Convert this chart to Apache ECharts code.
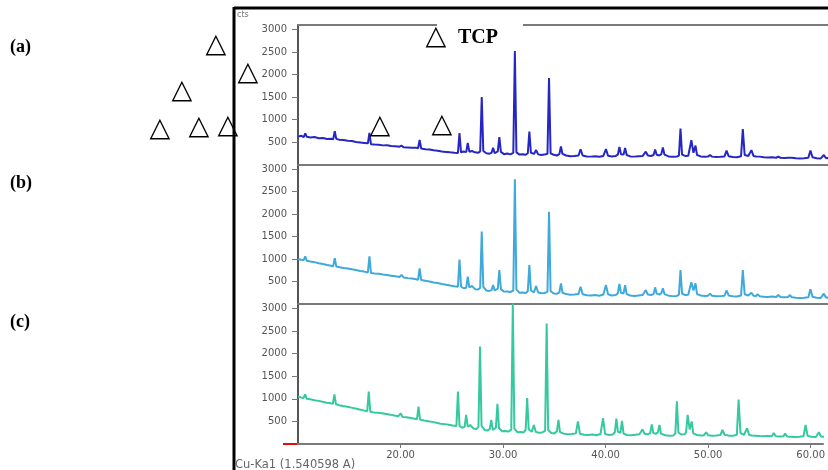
<!DOCTYPE html>
<html>
<head>
<meta charset="utf-8">
<script src="https://cdn.jsdelivr.net/npm/echarts@6/dist/echarts.min.js"></script>
<style>
  html, body { margin: 0; padding: 0; background: #fff; }
  #main { width: 828px; height: 470px; }
</style>
</head>
<body>
<div id="main"></div>
<script>
// 2theta positions shared by the three patterns
var twoTheta = [
  10.0, 10.3, 10.55, 10.7, 10.85, 11.2, 11.6, 12.0, 12.4, 12.8,
  13.2, 13.4, 13.55, 13.7, 14.0, 14.4, 14.8, 15.2, 15.6, 16.0,
  16.4, 16.75, 16.9, 17.05, 17.4, 17.8, 18.2, 18.6, 19.0, 19.4,
  19.8, 20.0, 20.2, 20.6, 21.0, 21.4, 21.6, 21.75, 21.9, 22.3,
  22.7, 23.1, 23.5, 23.9, 24.3, 24.7, 25.1, 25.45, 25.6, 25.75,
  26.0, 26.25, 26.4, 26.55, 26.8, 27.1, 27.4, 27.6, 27.75, 27.9,
  28.2, 28.5, 28.7, 28.85, 29.0, 29.3, 29.45, 29.6, 29.9, 30.2,
  30.5, 30.8, 30.95, 31.1, 31.4, 31.7, 32.0, 32.2, 32.35, 32.5,
  32.8, 33.0, 33.2, 33.5, 33.8, 34.1, 34.25, 34.4, 34.7, 35.0,
  35.25, 35.4, 35.55, 35.9, 36.3, 36.7, 37.1, 37.3, 37.5, 37.9,
  38.3, 38.7, 39.1, 39.5, 39.75, 39.95, 40.3, 40.7, 40.9, 41.05,
  41.2, 41.45, 41.6, 41.75, 42.1, 42.5, 42.9, 43.3, 43.6, 43.8,
  44.1, 44.35, 44.5, 44.65, 44.9, 45.1, 45.25, 45.4, 45.8, 46.2,
  46.6, 46.8, 46.95, 47.1, 47.4, 47.7, 47.85, 48.0, 48.2, 48.4,
  48.55, 48.9, 49.3, 49.6, 49.8, 50.0, 50.4, 50.8, 51.2, 51.4,
  51.6, 52.0, 52.4, 52.8, 52.97, 53.15, 53.5, 53.8, 54.0, 54.25,
  54.4, 54.6, 55.0, 55.4, 55.8, 56.2, 56.4, 56.6, 57.0, 57.35,
  57.5, 57.7, 58.1, 58.5, 58.9, 59.3, 59.5, 59.7, 60.1, 60.5,
  60.8, 61.0, 61.3
];

// (a) counts
var countsA = [
  620, 640, 610, 690, 615, 600, 610, 585, 590, 565,
  570, 560, 740, 570, 550, 545, 530, 520, 500, 490,
  480, 470, 700, 450, 445, 440, 425, 430, 410, 405,
  395, 420, 385, 380, 370, 375, 360, 545, 355, 340,
  335, 315, 305, 290, 280, 270, 262, 258, 700, 270,
  290, 275, 480, 285, 300, 270, 260, 290, 1500, 300,
  250, 240, 260, 370, 250, 290, 610, 280, 230, 245,
  225, 260, 2520, 270, 220, 230, 215, 250, 730, 260,
  235, 320, 225, 210, 220, 240, 1920, 250, 215, 200,
  230, 400, 235, 200, 185, 190, 200, 340, 200, 180,
  175, 185, 170, 190, 345, 195, 180, 190, 220, 390,
  230, 220, 370, 210, 180, 175, 185, 190, 285, 200,
  190, 210, 330, 215, 200, 230, 380, 220, 180, 170,
  175, 200, 800, 220, 190, 195, 230, 540, 260, 420,
  210, 180, 170, 175, 210, 175, 165, 170, 180, 310,
  185, 165, 160, 185, 785, 210, 190, 320, 190, 180,
  220, 175, 160, 155, 160, 150, 175, 150, 145, 150,
  190, 150, 140, 135, 140, 150, 310, 160, 140, 135,
  210, 145, 140
];

// (b) counts
var countsB = [
  1000, 985, 975, 1060, 960, 945, 930, 905, 890, 865,
  850, 840, 1020, 835, 815, 800, 790, 770, 755, 735,
  720, 700, 1060, 690, 680, 670, 655, 645, 630, 615,
  600, 645, 590, 575, 565, 550, 540, 790, 535, 515,
  500, 480, 465, 445, 430, 410, 395, 385, 990, 390,
  350, 360, 610, 370, 400, 330, 320, 360, 1610, 380,
  300, 290, 310, 420, 300, 340, 755, 330, 275, 280,
  265, 300, 2770, 320, 250, 255, 245, 290, 865, 300,
  260, 400, 255, 240, 245, 270, 2050, 290, 235, 225,
  260, 460, 250, 220, 205, 210, 220, 385, 215, 195,
  190, 200, 185, 210, 420, 215, 190, 200, 240, 445,
  250, 235, 420, 220, 190, 180, 190, 200, 310, 210,
  200, 220, 370, 230, 210, 240, 350, 220, 185, 175,
  180, 210, 755, 230, 200, 205, 240, 485, 300, 460,
  220, 190, 180, 185, 230, 185, 170, 175, 185, 300,
  190, 170, 165, 190, 755, 215, 190, 250, 185, 175,
  220, 170, 160, 155, 165, 155, 200, 155, 150, 155,
  200, 150, 140, 135, 140, 150, 330, 160, 140, 135,
  230, 145, 140
];

// (c) counts
var countsC = [
  1050, 1030, 1020, 1100, 1000, 990, 970, 955, 935, 915,
  900, 890, 1100, 880, 860, 840, 825, 805, 785, 765,
  745, 725, 1160, 715, 700, 690, 680, 665, 650, 630,
  615, 680, 600, 590, 575, 560, 545, 830, 540, 520,
  505, 490, 470, 450, 440, 425, 410, 400, 1160, 400,
  360, 380, 645, 385, 420, 345, 330, 380, 2160, 400,
  310, 300, 330, 535, 310, 360, 890, 350, 285, 290,
  275, 320, 3110, 340, 260, 265, 255, 310, 1015, 320,
  270, 420, 265, 250, 255, 290, 2670, 310, 245, 235,
  280, 535, 265, 230, 215, 220, 235, 500, 225, 205,
  200, 210, 195, 220, 570, 225, 200, 210, 260, 560,
  270, 250, 510, 230, 200, 195, 205, 215, 325, 225,
  215, 240, 435, 245, 225, 260, 420, 230, 195, 185,
  190, 230, 945, 250, 210, 215, 260, 645, 320, 500,
  235, 200, 190, 195, 260, 195, 185, 190, 200, 310,
  205, 185, 180, 205, 985, 240, 205, 350, 200, 190,
  230, 185, 175, 170, 180, 170, 240, 170, 165, 170,
  230, 165, 160, 155, 160, 170, 420, 180, 160, 155,
  260, 165, 160
];

var countTicks = [500, 1000, 1500, 2000, 2500, 3000];
var angleTicks = [20, 30, 40, 50, 60];
var panelColors = ['#2626c4', '#3fa9dc', '#34c99e'];

var myChart = echarts.init(document.getElementById('main'));

var grids = [
  { left: 298, right: 0, top: 25, height: 139.5 },
  { left: 298, right: 0, top: 164.5, height: 139.5 },
  { left: 298, right: 0, top: 304, height: 140 }
];

var xAxes = [];
var yAxes = [];
var series = [];
var allCounts = [countsA, countsB, countsC];

for (var i = 0; i < 3; i++) {
  var last = i === 2;
  xAxes.push({
    type: 'value', gridIndex: i, min: 10, max: 61.2,
    axisLine: { show: true, lineStyle: { color: '#7a7a7a', width: 2 } },
    axisTick: { show: last, customValues: angleTicks, length: 4, lineStyle: { color: '#777' } },
    axisLabel: {
      show: last, customValues: angleTicks, margin: 6,
      color: '#555', fontSize: 10, fontFamily: 'DejaVu Sans',
      formatter: function (v) { return v.toFixed(2); }
    },
    splitLine: { show: false }
  });
  yAxes.push({
    type: 'value', gridIndex: i, min: 0, max: 3100,
    axisLine: { show: true, onZero: false, lineStyle: { color: '#555', width: 2 } },
    axisTick: { show: true, customValues: countTicks, length: 6, lineStyle: { color: '#777' } },
    axisLabel: {
      customValues: countTicks, margin: 11,
      color: '#555', fontSize: 10, fontFamily: 'DejaVu Sans',
      formatter: function (v) { return String(v); }
    },
    splitLine: { show: false }
  });
  series.push({
    type: 'line', xAxisIndex: i, yAxisIndex: i,
    showSymbol: false, clip: !last,
    lineStyle: { color: panelColors[i], width: 2 },
    data: twoTheta.map(function (t, k) { return [t, allCounts[i][k]]; })
  });
}

// top border of the first panel
xAxes.push({
  type: 'value', gridIndex: 0, position: 'top', min: 10, max: 61.2,
  axisLine: { show: true, lineStyle: { color: '#7a7a7a', width: 2 } },
  axisTick: { show: false }, axisLabel: { show: false }, splitLine: { show: false }
});

function tri(x, y) {
  return {
    type: 'text', x: x, y: y, z: 100,
    style: { text: '△', fontSize: 27, fontFamily: 'DejaVu Sans', fill: '#000',
             align: 'center', verticalAlign: 'middle' }
  };
}

function tag(text, y) {
  return {
    type: 'text', x: 10, y: y, z: 100,
    style: { text: text, fontSize: 18, fontWeight: 'bold', fontFamily: 'Liberation Serif',
             fill: '#000', verticalAlign: 'middle' }
  };
}

var option = {
  animation: false,
  backgroundColor: '#fff',
  grid: grids,
  xAxis: xAxes,
  yAxis: yAxes,
  series: series,
  graphic: [
    // outer frame
    { type: 'line', z: 100, shape: { x1: 234, y1: 8, x2: 828, y2: 8 }, style: { stroke: '#000', lineWidth: 3 } },
    { type: 'line', z: 100, shape: { x1: 234, y1: 7, x2: 234, y2: 470 }, style: { stroke: '#000', lineWidth: 3 } },
    // red marker at origin
    { type: 'line', z: 100, shape: { x1: 283, y1: 444, x2: 297, y2: 444 }, style: { stroke: '#e01010', lineWidth: 2 } },
    { type: 'text', x: 237, y: 15, z: 100,
      style: { text: 'cts', fontSize: 8, fontFamily: 'DejaVu Sans', fill: '#777', verticalAlign: 'middle' } },
    { type: 'text', x: 235, y: 465, z: 100,
      style: { text: 'Cu-Ka1 (1.540598 A)', fontSize: 11.5, fontFamily: 'DejaVu Sans', fill: '#666', verticalAlign: 'middle' } },
    // TCP legend
    { type: 'rect', z: 99, shape: { x: 437, y: 20, width: 86, height: 10 }, style: { fill: '#fff' } },
    tri(436, 37),
    { type: 'text', x: 458, y: 38, z: 100,
      style: { text: 'TCP', fontSize: 20, fontWeight: 'bold', fontFamily: 'Liberation Serif',
               fill: '#000', verticalAlign: 'middle' } },
    tri(216, 45), tri(248, 73), tri(182, 91),
    tri(160, 129), tri(199, 127), tri(228, 126),
    tri(380, 126), tri(442, 125),
    tag('(a)', 47), tag('(b)', 183), tag('(c)', 322)
  ]
};

myChart.setOption(option);
</script>
</body>
</html>
